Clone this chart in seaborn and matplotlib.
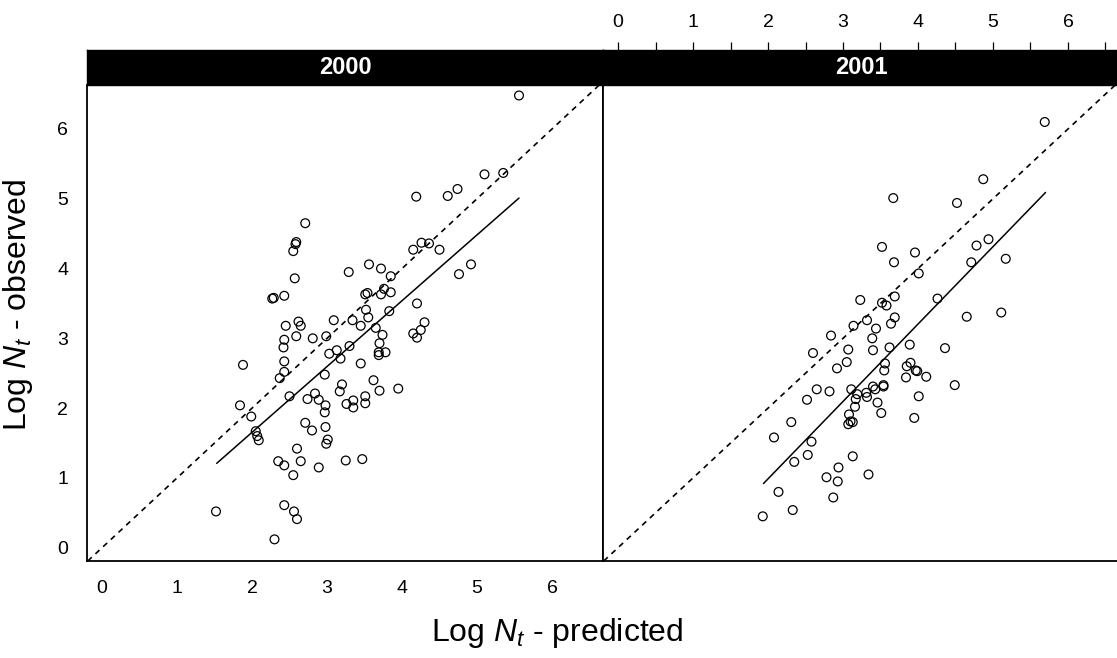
import numpy as np
import pandas as pd
import matplotlib
matplotlib.use("Agg")
import matplotlib.pyplot as plt
import seaborn as sns

# ---- data -------------------------------------------------------------
years = ["2000", "2001"]

pred_2000 = [1.52, 1.84, 1.88, 1.99, 2.05, 2.07, 2.09, 2.29, 2.27, 2.30,
             2.35, 2.37, 2.42, 2.43, 2.43, 2.43, 2.43, 2.43, 2.43, 2.45,
             2.50, 2.55, 2.57, 2.58, 2.59, 2.55, 2.56, 2.59, 2.60, 2.60,
             2.62, 2.65, 2.65, 2.71, 2.71, 2.74, 2.80, 2.81, 2.84, 2.89,
             2.89, 2.97, 2.97, 2.98, 2.98, 2.99, 2.99, 3.01, 3.03, 3.09,
             3.13, 3.17, 3.18, 3.20, 3.25, 3.26, 3.29, 3.30, 3.34, 3.35,
             3.35, 3.45, 3.45, 3.47, 3.51, 3.51, 3.51, 3.52, 3.54, 3.55,
             3.56, 3.62, 3.65, 3.69, 3.69, 3.70, 3.70, 3.72, 3.72, 3.74,
             3.76, 3.78, 3.83, 3.85, 3.85, 3.95, 4.15, 4.15, 4.19, 4.20,
             4.20, 4.25, 4.26, 4.30, 4.36, 4.50, 4.61, 4.74, 4.76, 4.92,
             5.10, 5.35, 5.56]
obs_2000 = [0.52, 2.04, 2.62, 1.88, 1.67, 1.60, 1.54, 3.58, 3.57, 0.12,
            1.24, 2.43, 2.87, 2.98, 2.67, 2.52, 3.61, 1.18, 0.61, 3.18,
            2.17, 4.25, 3.86, 4.35, 4.38, 1.04, 0.52, 3.03, 1.42, 0.41,
            3.24, 3.18, 1.24, 4.65, 1.79, 2.13, 1.68, 3.00, 2.21, 2.12,
            1.15, 2.48, 1.94, 2.04, 1.73, 3.03, 1.49, 1.55, 2.78, 3.26,
            2.83, 2.24, 2.71, 2.34, 1.25, 2.06, 3.95, 2.89, 3.26, 2.11,
            2.01, 3.18, 2.64, 1.27, 3.63, 2.17, 2.07, 3.41, 3.65, 3.30,
            4.06, 2.40, 3.15, 2.80, 2.76, 2.93, 2.25, 4.00, 3.63, 3.05,
            3.71, 2.80, 3.39, 3.89, 3.66, 2.28, 4.27, 3.07, 5.03, 3.50,
            3.01, 3.12, 4.37, 3.23, 4.36, 4.27, 5.04, 5.14, 3.92, 4.06,
            5.35, 5.37, 6.48]

pred_2001 = [1.93, 2.14, 2.33, 2.08, 2.31, 2.35, 2.53, 2.58, 2.52, 2.60,
             2.65, 2.78, 2.82, 2.84, 2.87, 2.92, 2.93, 2.94, 3.05, 3.07,
             3.07, 3.08, 3.10, 3.11, 3.13, 3.13, 3.14, 3.16, 3.17, 3.19,
             3.23, 3.31, 3.32, 3.32, 3.34, 3.39, 3.40, 3.40, 3.43, 3.44,
             3.46, 3.51, 3.52, 3.52, 3.54, 3.54, 3.55, 3.56, 3.58, 3.62,
             3.64, 3.67, 3.68, 3.69, 3.69, 3.84, 3.85, 3.89, 3.90, 3.95,
             3.96, 3.97, 3.99, 4.01, 4.01, 4.11, 4.26, 4.36, 4.49, 4.52,
             4.65, 4.71, 4.78, 4.87, 4.94, 5.11, 5.17, 5.69]
obs_2001 = [0.45, 0.80, 0.54, 1.58, 1.80, 1.23, 1.33, 1.52, 2.12, 2.79,
            2.27, 1.01, 2.24, 3.04, 0.72, 2.57, 0.95, 1.15, 2.66, 2.84,
            1.77, 1.91, 1.81, 2.27, 1.80, 1.31, 3.18, 2.02, 2.13, 2.20,
            3.55, 2.22, 3.26, 2.16, 1.05, 3.00, 2.83, 2.31, 2.27, 3.14,
            2.08, 1.93, 4.31, 3.51, 2.33, 2.31, 2.54, 2.64, 3.47, 2.87,
            3.21, 5.01, 4.09, 3.60, 3.30, 2.44, 2.60, 2.91, 2.65, 1.86,
            4.23, 2.54, 2.53, 3.93, 2.17, 2.45, 3.57, 2.86, 2.33, 4.94,
            3.31, 4.09, 4.33, 5.28, 4.42, 3.37, 4.14, 6.10]

# fitted regression segments (observed on predicted)
fit_x_2000 = [1.53, 5.56]
fit_y_2000 = [1.21, 5.01]
fit_x_2001 = [1.94, 5.70]
fit_y_2001 = [0.92, 5.09]

tick_values = [0, 0.5, 1, 1.5, 2, 2.5, 3, 3.5, 4, 4.5, 5, 5.5, 6, 6.5]
tick_labels = ["0", "", "1", "", "2", "", "3", "", "4", "", "5", "", "6", ""]

points = pd.concat([
    pd.DataFrame({"year": "2000", "predicted": pred_2000, "observed": obs_2000}),
    pd.DataFrame({"year": "2001", "predicted": pred_2001, "observed": obs_2001}),
], ignore_index=True)
fits = pd.concat([
    pd.DataFrame({"year": "2000", "predicted": fit_x_2000, "observed": fit_y_2000}),
    pd.DataFrame({"year": "2001", "predicted": fit_x_2001, "observed": fit_y_2001}),
], ignore_index=True)

# ---- style ------------------------------------------------------------
sns.set_theme(style="white")
plt.rcParams["font.family"] = ["Liberation Sans", "DejaVu Sans"]
plt.rcParams["mathtext.fontset"] = "custom"
plt.rcParams["mathtext.rm"] = "Liberation Sans"
plt.rcParams["mathtext.it"] = "Liberation Sans:italic"

W, H = 1117, 658
fig = plt.figure(figsize=(W / 100, H / 100), dpi=100)


def rect(x0, y0, x1, y1):
    return [x0 / W, 1 - y1 / H, (x1 - x0) / W, (y1 - y0) / H]


XLIM = (-0.2, 6.68)
YLIM = (-0.19, 6.63)
panel_boxes = [(87, 85, 603, 561), (603, 85, 1119, 561)]
strip_boxes = [(87, 50, 603, 85), (603, 50, 1119, 85)]

tick_kw = dict(direction="out", length=5.5, width=0.9, color="black",
               labelsize=14, labelcolor="black", pad=8)

for i, year in enumerate(years):
    ax = fig.add_axes(rect(*panel_boxes[i]))
    sub = points[points["year"] == year]
    sns.scatterplot(data=sub, x="predicted", y="observed", ax=ax,
                    color="black", marker="o", s=40, linewidth=0.9,
                    legend=False, zorder=3)
    coll = ax.collections[-1]
    coll.set_facecolor("none")
    coll.set_edgecolor("black")

    sns.lineplot(data=fits[fits["year"] == year], x="predicted", y="observed",
                 ax=ax, color="black", linewidth=1.1, legend=False)
    ax.axline((0, 0), slope=1, color="black", linewidth=1.2,
              dashes=(3.3, 3.0))

    ax.set_xlim(*XLIM)
    ax.set_ylim(*YLIM)
    ax.set_xlabel("")
    ax.set_ylabel("")
    ax.set_facecolor("white")
    for side, sp in ax.spines.items():
        sp.set_visible(side != "top")
        sp.set_color("black")
        sp.set_linewidth(1.3)

    if i == 0:
        ax.set_xticks(tick_values)
        ax.set_xticklabels(tick_labels)
        ax.set_yticks(tick_values)
        ax.set_yticklabels(tick_labels)
        ax.tick_params(axis="both", **tick_kw)
    else:
        ax.set_xticks([])
        ax.set_yticks([])

    # strip with the year
    sax = fig.add_axes(rect(*strip_boxes[i]))
    sax.set_facecolor("black")
    sax.set_xlim(*XLIM)
    sax.set_yticks([])
    for sp in sax.spines.values():
        sp.set_color("black")
        sp.set_linewidth(1.0)
    sax.text(0.5, 0.5, year, transform=sax.transAxes, ha="center",
             va="center", color="white", fontsize=17, fontweight="bold")
    if i == 1:
        sax.set_xticks(tick_values)
        sax.set_xticklabels(tick_labels)
        sax.tick_params(axis="x", top=True, bottom=False, labeltop=True,
                        labelbottom=False, **tick_kw)
    else:
        sax.set_xticks([])

fig.text(18 / W, 1 - 305 / H, r"Log $\mathit{N_t}$ - observed", rotation=90,
         ha="center", va="center", fontsize=23, color="black")
fig.text(557 / W, 1 - 633 / H, r"Log $\mathit{N_t}$ - predicted",
         ha="center", va="center", fontsize=23, color="black")

fig.savefig("out.png", dpi=100, facecolor="white")
